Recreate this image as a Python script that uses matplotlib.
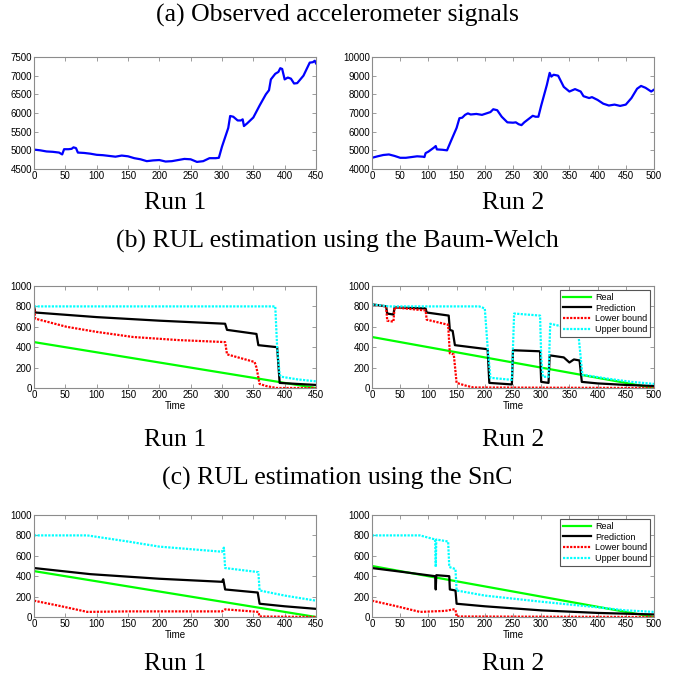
import matplotlib.pyplot as plt

# (a) accelerometer signals
acc1_t = [0, 10, 20, 30, 40, 45, 48, 55, 60, 63, 67, 70, 80, 90, 100, 110, 120, 130, 140, 150,
          160, 170, 180, 190, 200, 210, 220, 230, 240, 250, 260, 270, 280, 290, 295, 300, 305,
          310, 313, 318, 325, 330, 333, 335, 340, 350, 360, 370, 375, 378, 385, 390, 393, 396,
          400, 405, 410, 415, 420, 430, 440, 445, 448, 450]
acc1_v = [5020, 5000, 4970, 4960, 4940, 4890, 5030, 5030, 5040, 5080, 5060, 4940, 4930, 4910,
          4880, 4870, 4850, 4830, 4860, 4840, 4790, 4760, 4710, 4730, 4740, 4700, 4710, 4740,
          4770, 4760, 4690, 4710, 4790, 4790, 4800, 5100, 5350, 5600, 5920, 5900, 5800, 5800,
          5830, 5650, 5720, 5880, 6200, 6500, 6610, 6900, 7050, 7100, 7200, 7180, 6900, 6950,
          6920, 6790, 6800, 7000, 7350, 7360, 7400, 7330]
acc2_t = [0, 10, 20, 30, 40, 50, 60, 70, 80, 90, 93, 95, 100, 110, 113, 115, 125, 133, 140, 150,
          155, 160, 165, 170, 175, 185, 195, 205, 210, 215, 222, 230, 240, 250, 255, 260, 265,
          270, 285, 290, 295, 300, 310, 315, 318, 322, 330, 340, 350, 360, 370, 375, 385, 390,
          400, 410, 420, 430, 440, 450, 460, 470, 477, 485, 495, 500]
acc2_v = [4600, 4680, 4750, 4780, 4700, 4600, 4600, 4640, 4680, 4660, 4640, 4850, 4930, 5150,
          5230, 5050, 5030, 5000, 5500, 6200, 6720, 6750, 6900, 6980, 6920, 6950, 6900, 7000,
          7050, 7200, 7150, 6800, 6500, 6480, 6500, 6400, 6350, 6500, 6850, 6800, 6800, 7400,
          8500, 9150, 8950, 9050, 9000, 8400, 8150, 8280, 8150, 7900, 7800, 7850, 7700, 7500,
          7400, 7450, 7380, 7450, 7800, 8300, 8450, 8350, 8150, 8250]

# (b) Baum-Welch, run 1
bw1_real_t = [0, 450]
bw1_real_v = [450, 0]
bw1_pred_t = [0, 2, 100, 200, 305, 308, 355, 358, 388, 392, 420, 450]
bw1_pred_v = [800, 740, 695, 660, 630, 570, 530, 420, 400, 50, 40, 30]
bw1_low_t = [0, 2, 52, 100, 158, 230, 305, 308, 352, 355, 360, 370, 387, 450]
bw1_low_v = [800, 680, 600, 550, 500, 470, 450, 330, 255, 200, 40, 20, 0, 0]
bw1_up_t = [0, 385, 388, 392, 395, 420, 450]
bw1_up_v = [800, 800, 400, 130, 110, 85, 65]

# (b) Baum-Welch, run 2
bw2_real_t = [0, 500]
bw2_real_v = [500, 0]
bw2_pred_t = [0, 25, 27, 38, 40, 95, 97, 136, 138, 143, 147, 205, 208, 248, 250, 298, 300,
              313, 315, 340, 350, 358, 368, 372, 400, 450, 500]
bw2_pred_v = [820, 800, 730, 720, 790, 780, 740, 710, 570, 560, 420, 380, 50, 35, 370, 360, 60,
              50, 320, 300, 250, 280, 270, 60, 45, 30, 20]
bw2_low_t = [0, 25, 27, 38, 40, 95, 97, 135, 138, 145, 150, 165, 180, 500]
bw2_low_v = [820, 800, 660, 650, 790, 760, 670, 620, 340, 330, 50, 25, 5, 0]
bw2_up_t = [0, 30, 190, 200, 205, 210, 248, 252, 298, 300, 303, 313, 316, 340, 365, 370, 373,
            420, 460, 500]
bw2_up_v = [820, 800, 800, 780, 400, 100, 80, 730, 710, 300, 110, 110, 630, 600, 580, 300, 130,
            90, 60, 40]

# (c) SnC, run 1
snc1_real_t = [0, 450]
snc1_real_v = [450, 0]
snc1_pred_t = [0, 90, 200, 300, 302, 305, 357, 360, 400, 450]
snc1_pred_v = [480, 420, 375, 345, 370, 270, 240, 130, 105, 80]
snc1_up_t = [0, 85, 150, 200, 300, 303, 305, 358, 360, 400, 450]
snc1_up_v = [800, 800, 740, 690, 640, 680, 480, 440, 260, 210, 160]
snc1_low_t = [0, 40, 85, 150, 300, 305, 358, 360, 450]
snc1_low_v = [160, 110, 50, 55, 55, 75, 50, 5, 0]

# (c) SnC, run 2
snc2_real_t = [0, 500]
snc2_real_v = [500, 0]
snc2_pred_t = [0, 50, 112, 113, 114, 137, 138, 148, 150, 200, 300, 400, 500]
snc2_pred_v = [480, 445, 400, 270, 410, 400, 270, 260, 130, 105, 65, 40, 25]
snc2_up_t = [0, 85, 112, 113, 114, 135, 137, 148, 150, 200, 300, 400, 450, 500]
snc2_up_v = [800, 800, 760, 490, 760, 740, 490, 470, 260, 210, 150, 95, 65, 50]
snc2_low_t = [0, 40, 85, 130, 145, 148, 150, 500]
snc2_low_v = [160, 110, 50, 60, 75, 70, 5, 0]

legend_labels = ['Real', 'Prediction', 'Lower bound', 'Upper bound']

plt.rcParams['font.family'] = ['Liberation Sans', 'DejaVu Sans']

W, H = 677, 679
fig = plt.figure(figsize=(W / 100, H / 100), dpi=100)

def frame(px_left, px_top, px_w, px_h):
    ax = fig.add_axes([px_left / W, 1 - (px_top + px_h) / H, px_w / W, px_h / H])
    for s in ax.spines.values():
        s.set_color('#8c8c8c')
        s.set_linewidth(0.8)
    ax.tick_params(direction='in', length=3, width=0.6, color='#8c8c8c', labelsize=7,
                   top=True, right=True, pad=1.5)
    return ax

def rul(ax, real, pred, low, up, xmax, legend=False):
    ax.plot(real[0], real[1], color='#00ff00', lw=1.6, label=legend_labels[0])
    ax.plot(pred[0], pred[1], color='black', lw=1.6, label=legend_labels[1])
    ax.plot(low[0], low[1], color='red', lw=1.6, ls=(0, (1, 0.6)), label=legend_labels[2])
    ax.plot(up[0], up[1], color='cyan', lw=1.6, ls=(0, (1, 0.6)), label=legend_labels[3])
    ax.set_xlim(0, xmax)
    ax.set_ylim(0, 1000)
    ax.set_xticks(range(0, xmax + 1, 50))
    ax.set_yticks(range(0, 1001, 200))
    ax.set_xlabel('Time', fontsize=7, labelpad=1)
    if legend:
        leg = ax.legend(loc='upper right', fontsize=6.5, fancybox=False, framealpha=1,
                        handlelength=3.1, borderpad=0.35, labelspacing=0.2,
                        handletextpad=0.4, borderaxespad=0.4)
        leg.get_frame().set_edgecolor('#555555')
        leg.get_frame().set_linewidth(0.8)

# top row
ax = frame(34, 57, 282, 112)
ax.plot(acc1_t, acc1_v, color='blue', lw=1.6)
ax.set_xlim(0, 450)
ax.set_ylim(4500, 7500)
ax.set_xticks(range(0, 451, 50))
ax.set_yticks(range(4500, 7501, 500))

ax = frame(372, 57, 282, 112)
ax.plot(acc2_t, acc2_v, color='blue', lw=1.6)
ax.set_xlim(0, 500)
ax.set_ylim(4000, 10000)
ax.set_xticks(range(0, 501, 50))
ax.set_yticks(range(4000, 10001, 1000))

# middle row
ax = frame(34, 286, 282, 102)
rul(ax, (bw1_real_t, bw1_real_v), (bw1_pred_t, bw1_pred_v), (bw1_low_t, bw1_low_v),
    (bw1_up_t, bw1_up_v), 450)
ax = frame(372, 286, 282, 102)
rul(ax, (bw2_real_t, bw2_real_v), (bw2_pred_t, bw2_pred_v), (bw2_low_t, bw2_low_v),
    (bw2_up_t, bw2_up_v), 500, legend=True)

# bottom row
ax = frame(34, 515, 282, 102)
rul(ax, (snc1_real_t, snc1_real_v), (snc1_pred_t, snc1_pred_v), (snc1_low_t, snc1_low_v),
    (snc1_up_t, snc1_up_v), 450)
ax = frame(372, 515, 282, 102)
rul(ax, (snc2_real_t, snc2_real_v), (snc2_pred_t, snc2_pred_v), (snc2_low_t, snc2_low_v),
    (snc2_up_t, snc2_up_v), 500, legend=True)

serif = 'Liberation Serif'
def label(px_x, px_y, s):
    fig.text(px_x / W, 1 - px_y / H, s, ha='center', va='center', family=serif, fontsize=18.5)

label(337, 15, '(a) Observed accelerometer signals')
label(175, 203, 'Run 1')
label(513, 203, 'Run 2')
label(337, 241, '(b) RUL estimation using the Baum-Welch')
label(175, 440, 'Run 1')
label(513, 440, 'Run 2')
label(337, 478, '(c) RUL estimation using the SnC')
label(175, 664, 'Run 1')
label(513, 664, 'Run 2')

fig.savefig('out.png', dpi=100)
